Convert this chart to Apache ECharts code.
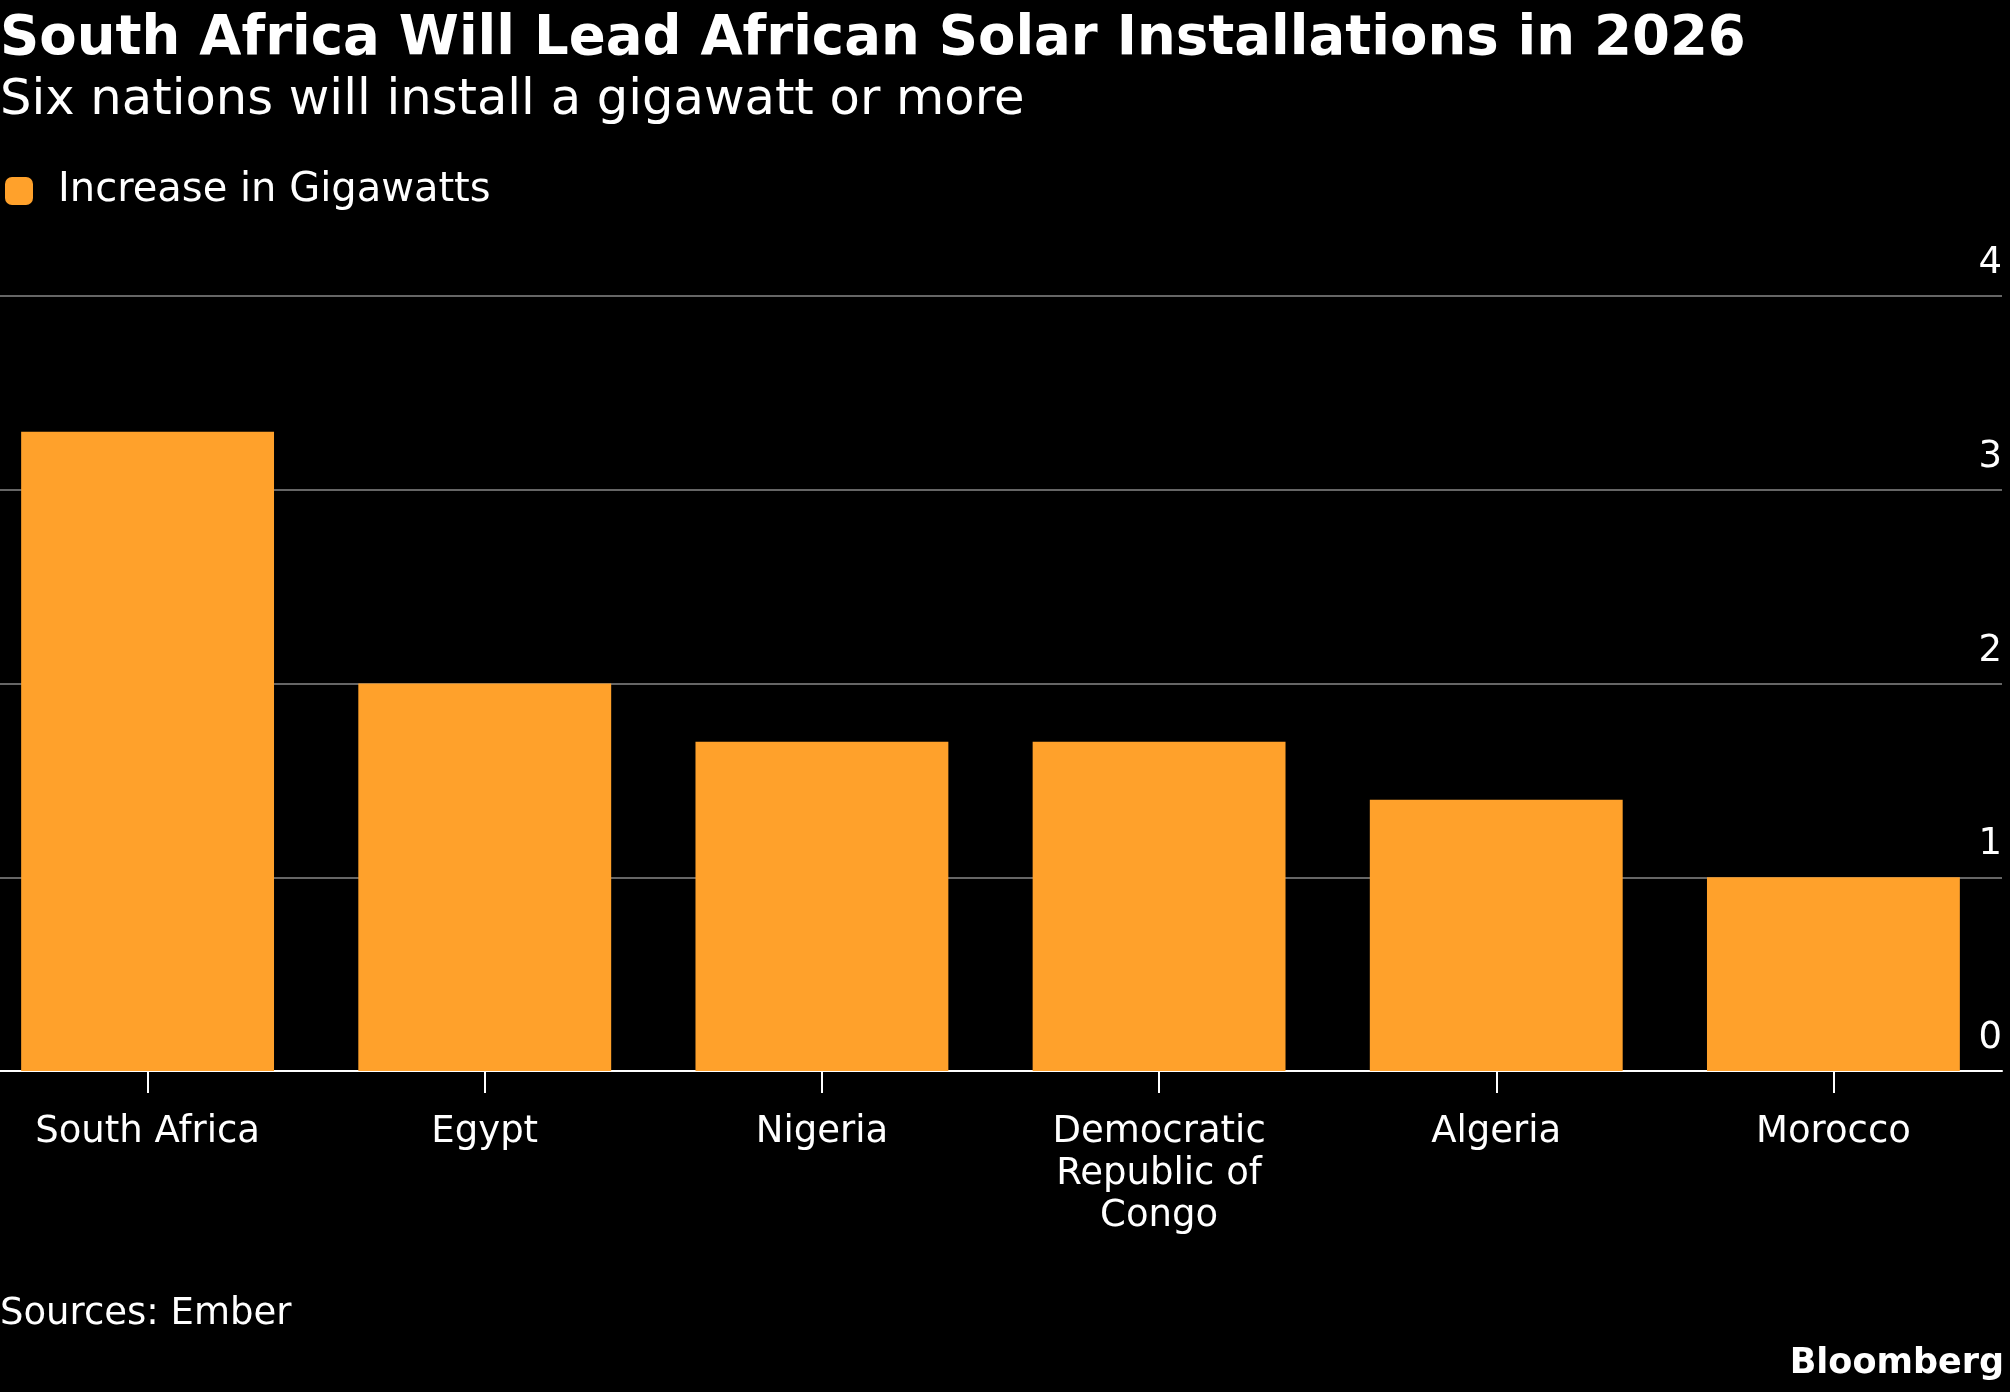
<!DOCTYPE html>
<html>
<head>
    <meta charset="UTF-8"/>
    <script type="text/javascript" src="https://cdn.jsdelivr.net/npm/echarts@6/dist/echarts.min.js"></script>
    <title>South Africa Will Lead African Solar Installations in 2026</title>
    <style>
        html, body {margin: 0; padding: 0; background: #000;}
        #main {width: 2010px; height: 1392px;}
    </style>
</head>
<body>
<div id="main"></div>
<script type="text/javascript">
    var countries = ['South Africa', 'Egypt', 'Nigeria', 'Democratic\nRepublic of\nCongo', 'Algeria', 'Morocco']
    var gigawatts = [3.3, 2.0, 1.7, 1.7, 1.4, 1.0]
    var yTicks = [0, 1, 2, 3, 4]

    var font = '"DejaVu Sans", sans-serif'
    var myChart = echarts.init(document.getElementById('main'))

    var option = {
        backgroundColor: '#000',
        textStyle: {fontFamily: font},
        title: [
            {
                text: 'South Africa Will Lead African Solar Installations in 2026',
                left: -5, top: 7,
                textStyle: {color: '#fff', fontSize: 54.5, fontWeight: 'bold', fontFamily: font}
            },
            {
                text: 'Six nations will install a gigawatt or more',
                left: -5, top: 71,
                textStyle: {color: '#fff', fontSize: 49.6, fontWeight: 'normal', fontFamily: font}
            },
            {
                text: 'Sources: Ember',
                left: -5, top: 1291,
                textStyle: {color: '#fff', fontSize: 37, fontWeight: 'normal', fontFamily: font}
            },
            {
                text: 'Bloomberg',
                right: 1, top: 1341,
                textStyle: {color: '#fff', fontSize: 35, fontWeight: 'bold', fontFamily: font}
            }
        ],
        legend: {
            left: 0, top: 166,
            icon: 'roundRect',
            itemWidth: 28, itemHeight: 28,
            textStyle: {color: '#fff', fontSize: 40, fontFamily: font, padding: [0, 0, 0, 20]},
            data: ['Increase in Gigawatts']
        },
        grid: {left: -21, right: 8, top: 296, bottom: 321, containLabel: false, outerBoundsMode: 'none'},
        xAxis: {
            type: 'category',
            data: countries,
            axisLine: {show: true, lineStyle: {color: '#fff', width: 2}},
            axisTick: {show: true, alignWithLabel: true, length: 22, lineStyle: {color: '#fff', width: 2}},
            axisLabel: {color: '#fff', fontSize: 37, lineHeight: 42, margin: 40, interval: 0, fontFamily: font}
        },
        yAxis: {
            type: 'value',
            position: 'right',
            min: yTicks[0],
            max: yTicks[yTicks.length - 1],
            interval: 1,
            axisLine: {show: false},
            axisTick: {show: false},
            splitLine: {lineStyle: {color: '#666', width: 2}},
            axisLabel: {
                inside: true, margin: 0,
                color: '#fff', fontSize: 37, fontFamily: font,
                verticalAlign: 'bottom', padding: [0, 0, 14, 0]
            }
        },
        series: [
            {
                name: 'Increase in Gigawatts',
                type: 'bar',
                data: gigawatts,
                barCategoryGap: '25%',
                itemStyle: {color: '#ffa12b'}
            }
        ]
    }
    myChart.setOption(option)
</script>
</body>
</html>
